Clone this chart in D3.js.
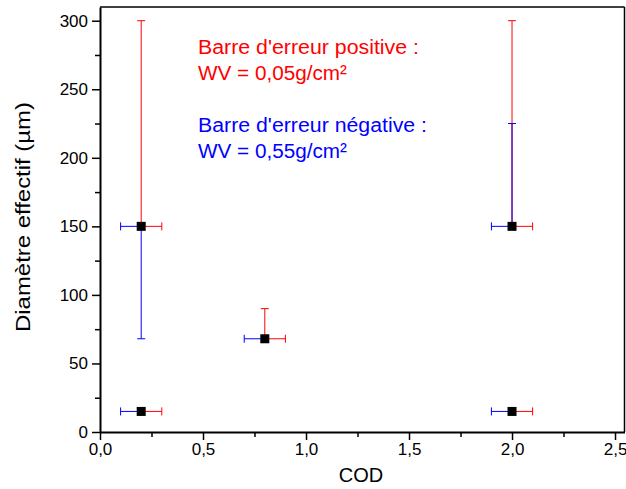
<!DOCTYPE html>
<html>
<head>
<meta charset="utf-8">
<script src="https://cdn.jsdelivr.net/npm/d3@7"></script>
<style>
  body { margin: 0; background: #fff; }
  svg { font-family: Arial, "Liberation Sans", sans-serif; }
</style>
</head>
<body>
<div id="chart"></div>
<script>
// points (COD, diametre)
var cod = [0.2, 0.2, 0.8, 2.0, 2.0];
var diam = [150, 15, 68, 150, 15];
// error bar ends (null = no bar)
var errPlus = [300, null, 90, 300, null];     // red, WV = 0,05
var errMinus = [68, null, null, 225, null];   // blue, WV = 0,55
var xErr = [0.1, 0.1, 0.1, 0.1, 0.1];

var xTicks = [0, 0.5, 1.0, 1.5, 2.0, 2.5];
var yTicks = [0, 50, 100, 150, 200, 250, 300];

var W = 626, H = 489;
var margin = {top: 7, right: 2, bottom: 57, left: 100};
var width = 624.5 - margin.left, height = 432 - margin.top;

var svg = d3.select("#chart").append("svg")
  .attr("width", W).attr("height", H);
var g = svg.append("g")
  .attr("transform", "translate(" + margin.left + "," + margin.top + ")");

var x = d3.scaleLinear().domain([0, 2.546]).range([0, width]);
var y = d3.scaleLinear().domain([0, 310]).range([height, 0]);

var fmt = function(d) { return d3.format(".1f")(d).replace(".", ","); };

// minor ticks
g.append("g").attr("transform", "translate(0," + height + ")")
  .call(d3.axisBottom(x).tickValues(d3.range(0.25, 2.5, 0.5)).tickSize(5).tickFormat(""))
  .call(function(a) { a.select(".domain").remove(); a.selectAll("line").attr("stroke-width", 1.5); });
g.append("g")
  .call(d3.axisLeft(y).tickValues(d3.range(25, 310, 50)).tickSize(5).tickFormat(""))
  .call(function(a) { a.select(".domain").remove(); a.selectAll("line").attr("stroke-width", 1.5); });

// major axes
var xAxis = g.append("g").attr("transform", "translate(0," + height + ")")
  .call(d3.axisBottom(x).tickValues(xTicks).tickSize(8).tickPadding(3).tickSizeOuter(0).tickFormat(fmt));
var yAxis = g.append("g")
  .call(d3.axisLeft(y).tickValues(yTicks).tickSize(8).tickPadding(4).tickSizeOuter(0));
[xAxis, yAxis].forEach(function(a) {
  a.select(".domain").attr("stroke-width", 2);
  a.selectAll("line").attr("stroke-width", 1.5);
  a.selectAll("text").attr("font-size", "17px").attr("fill", "#000")
    .attr("font-family", "Arial, 'Liberation Sans', sans-serif");
});

// frame top/right
g.append("line").attr("x1", 0).attr("x2", width).attr("y1", 0).attr("y2", 0)
  .attr("stroke", "#000").attr("stroke-width", 1.5);
g.append("line").attr("x1", width).attr("x2", width).attr("y1", 0).attr("y2", height)
  .attr("stroke", "#000").attr("stroke-width", 1.5);

var cap = 4;
var red = "#ff0000", blue = "#0000ff";

cod.forEach(function(c, i) {
  var px = x(c), py = y(diam[i]);
  // horizontal error: blue left, red right
  var xl = x(c - xErr[i]), xr = x(c + xErr[i]);
  g.append("line").attr("x1", px).attr("x2", xl).attr("y1", py).attr("y2", py).attr("stroke", blue);
  g.append("line").attr("x1", xl).attr("x2", xl).attr("y1", py - cap).attr("y2", py + cap).attr("stroke", blue);
  g.append("line").attr("x1", px).attr("x2", xr).attr("y1", py).attr("y2", py).attr("stroke", red);
  g.append("line").attr("x1", xr).attr("x2", xr).attr("y1", py - cap).attr("y2", py + cap).attr("stroke", red);
  if (errPlus[i] != null) {
    var yp = y(errPlus[i]);
    g.append("line").attr("x1", px).attr("x2", px).attr("y1", py).attr("y2", yp).attr("stroke", red);
    g.append("line").attr("x1", px - cap).attr("x2", px + cap).attr("y1", yp).attr("y2", yp).attr("stroke", red);
  }
  if (errMinus[i] != null) {
    var ym = y(errMinus[i]);
    g.append("line").attr("x1", px).attr("x2", px).attr("y1", py).attr("y2", ym).attr("stroke", blue);
    g.append("line").attr("x1", px - cap).attr("x2", px + cap).attr("y1", ym).attr("y2", ym).attr("stroke", blue);
  }
});

g.selectAll("rect.pt").data(cod).enter().append("rect")
  .attr("class", "pt")
  .attr("x", function(d) { return x(d) - 4.5; })
  .attr("y", function(d, i) { return y(diam[i]) - 4.5; })
  .attr("width", 9).attr("height", 9).attr("fill", "#000");

// annotations
var notes = [
  {t: "Barre d'erreur positive :", c: red, y: 54, w: 221},
  {t: "WV = 0,05g/cm²", c: red, y: 80, w: 149},
  {t: "Barre d'erreur négative :", c: blue, y: 132, w: 229},
  {t: "WV = 0,55g/cm²", c: blue, y: 158, w: 149}
];
svg.selectAll("text.note").data(notes).enter().append("text")
  .attr("class", "note")
  .attr("x", 198).attr("y", function(d) { return d.y; })
  .attr("fill", function(d) { return d.c; })
  .attr("font-size", "20px")
  .attr("textLength", function(d) { return d.w; })
  .attr("lengthAdjust", "spacingAndGlyphs")
  .text(function(d) { return d.t; });

// axis titles
svg.append("text").attr("x", 361).attr("y", 482).attr("text-anchor", "middle")
  .attr("font-size", "20px").text("COD");
svg.append("text").attr("transform", "translate(30,217) rotate(-90)")
  .attr("text-anchor", "middle").attr("font-size", "20px")
  .attr("textLength", 230).attr("lengthAdjust", "spacingAndGlyphs")
  .text("Diamètre effectif (µm)");
</script>
</body>
</html>
